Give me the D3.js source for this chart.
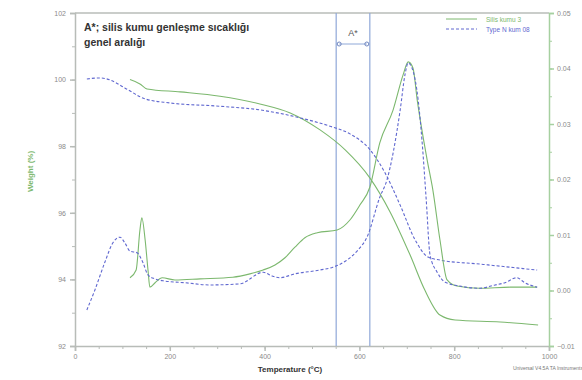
<!DOCTYPE html>
<html>
<head>
<meta charset="utf-8">
<script src="https://cdn.jsdelivr.net/npm/d3@7"></script>
<style>
  body { margin: 0; background: #fff; }
  svg { font-family: "Liberation Sans", Arial, sans-serif; }
</style>
</head>
<body>
<div id="chart"></div>
<script>
// temperatures (°C) and values
var tGreenW = [116, 137, 152, 222, 306, 390, 454, 517, 570, 622, 665, 707, 738, 770, 802, 897, 977];
var wGreen  = [100.0, 99.87, 99.72, 99.63, 99.5, 99.27, 99.0, 98.49, 97.89, 97.05, 96.02, 94.73, 93.68, 92.93, 92.78, 92.72, 92.63];

var tBlueW = [25, 53, 74, 105, 148, 200, 306, 390, 475, 538, 580, 622, 654, 686, 717, 745, 770, 854, 975];
var wBlue  = [100.02, 100.05, 99.99, 99.75, 99.42, 99.3, 99.2, 99.09, 98.85, 98.6, 98.37, 97.9, 97.2, 96.23, 95.2, 94.67, 94.58, 94.46, 94.28];

var tGreenD = [116, 129, 137, 141, 148, 154, 158, 169, 184, 211, 264, 333, 369, 397, 422, 443, 464, 485, 511, 553, 580, 601, 622, 643, 671, 692, 703, 713, 722, 743, 755, 770, 785, 806, 854, 918, 975];
var dGreen  = [0.0023, 0.0037, 0.0109, 0.0131, 0.0091, 0.0037, 0.0006, 0.0014, 0.0023, 0.0019, 0.0021, 0.0024, 0.0030, 0.0037, 0.0046, 0.0059, 0.0078, 0.0095, 0.0104, 0.0109, 0.0127, 0.0154, 0.0186, 0.0266, 0.0325, 0.0388, 0.0412, 0.0401, 0.0343, 0.0235, 0.0181, 0.0091, 0.0019, 0.0008, 0.0004, 0.0006, 0.0006];

var tBlueD = [25, 42, 63, 80, 95, 105, 116, 131, 143, 154, 169, 190, 232, 285, 348, 397, 416, 432, 464, 517, 544, 574, 597, 616, 643, 658, 686, 696, 703, 711, 724, 732, 741, 749, 764, 781, 812, 854, 886, 907, 932, 949, 975];
var dBlue  = [-0.0035, 0.0001, 0.0051, 0.0086, 0.0096, 0.0086, 0.0071, 0.0068, 0.0051, 0.0028, 0.0021, 0.0017, 0.0014, 0.0010, 0.0012, 0.0033, 0.0026, 0.0023, 0.0030, 0.0037, 0.0042, 0.0055, 0.0073, 0.0096, 0.0168, 0.0199, 0.0325, 0.0388, 0.0410, 0.0401, 0.0343, 0.0271, 0.0163, 0.0064, 0.0033, 0.0015, 0.0008, 0.0004, 0.0010, 0.0014, 0.0023, 0.0014, 0.0006];

var xTicks = [0, 200, 400, 600, 800, 1000];
var yLeftTicks = [92, 94, 96, 98, 100, 102];
var yRightTicks = [-0.01, 0.00, 0.01, 0.02, 0.03, 0.04, 0.05];
var rangeA = [551, 622];
var legendNames = ["Silis kumu 3", "Type N kum 08"];

var margin = {top: 13, right: 33, bottom: 34, left: 75},
    width = 582 - margin.left - margin.right,
    height = 380 - margin.top - margin.bottom;

var green = "#7cb86e", blue = "#6068d0", axisGrey = "#b8bcb8", lineBlue = "#8fa8d8";

var svg = d3.select("#chart")
  .append("svg")
    .attr("width", 582)
    .attr("height", 380)
  .append("g")
    .attr("transform", "translate(" + margin.left + "," + margin.top + ")");

var x = d3.scaleLinear().domain([0, 1000]).range([0, width]);
var yL = d3.scaleLinear().domain([92, 102]).range([height, 0]);
var yR = d3.scaleLinear().domain([-0.01, 0.05]).range([height, 0]);

// frame: top grey line
svg.append("line").attr("x1", 0).attr("x2", width).attr("y1", 0).attr("y2", 0)
  .attr("stroke", axisGrey).attr("stroke-width", 1.5);

// minor ticks
var xMinor = d3.range(0, 1001, 50);
svg.append("g").attr("transform", "translate(0," + height + ")")
  .call(d3.axisBottom(x).tickValues(xMinor).tickSize(3).tickFormat(""))
  .call(function(g) { g.selectAll("line,path").attr("stroke", axisGrey); });
svg.append("g")
  .call(d3.axisLeft(yL).tickValues(d3.range(92, 102.1, 1)).tickSize(3).tickFormat(""))
  .call(function(g) { g.selectAll("line,path").attr("stroke", axisGrey); });
svg.append("g").attr("transform", "translate(" + width + ",0)")
  .call(d3.axisRight(yR).tickValues(d3.range(-0.01, 0.0501, 0.005)).tickSize(3).tickFormat(""))
  .call(function(g) { g.selectAll("line,path").attr("stroke", "#a6d0a0"); });

// main axes
svg.append("g").attr("transform", "translate(0," + height + ")")
  .call(d3.axisBottom(x).tickValues(xTicks).tickSize(5).tickPadding(3).tickFormat(d3.format("d")))
  .call(function(g) {
    g.selectAll("line,path").attr("stroke", axisGrey).attr("stroke-width", 1.5);
    g.selectAll("text").attr("fill", "#8a8a8a").style("font-size", "7px");
  });
svg.append("g")
  .call(d3.axisLeft(yL).tickValues(yLeftTicks).tickSize(5).tickPadding(4).tickFormat(d3.format("d")))
  .call(function(g) {
    g.selectAll("line,path").attr("stroke", axisGrey).attr("stroke-width", 1.5);
    g.selectAll("text").attr("fill", "#8a8a8a").style("font-size", "7px");
  });
svg.append("g").attr("transform", "translate(" + width + ",0)")
  .call(d3.axisRight(yR).tickValues(yRightTicks).tickSize(5).tickPadding(3).tickFormat(d3.format(".2f")))
  .call(function(g) {
    g.selectAll("line,path").attr("stroke", "#a6d0a0").attr("stroke-width", 1.5);
    g.selectAll("text").attr("fill", "#8a8a8a").style("font-size", "7px");
  });

// A* range lines
svg.selectAll(".rangeA").data(rangeA).enter().append("line")
  .attr("x1", function(d) { return x(d); }).attr("x2", function(d) { return x(d); })
  .attr("y1", 0).attr("y2", height)
  .attr("stroke", lineBlue).attr("stroke-width", 1.2);

var ay = 31;
svg.append("line")
  .attr("x1", x(rangeA[0]) + 3).attr("x2", x(rangeA[1]) - 3).attr("y1", ay).attr("y2", ay)
  .attr("stroke", lineBlue).attr("stroke-width", 1);
svg.selectAll(".arrowEnd").data(rangeA).enter().append("circle")
  .attr("cx", function(d, i) { return x(d) + (i === 0 ? 3 : -3); })
  .attr("cy", ay).attr("r", 2)
  .attr("fill", "none").attr("stroke", "#6f86c0").attr("stroke-width", 1);
svg.append("text")
  .attr("x", (x(rangeA[0]) + x(rangeA[1])) / 2).attr("y", ay - 8)
  .attr("text-anchor", "middle").style("font-size", "9px").attr("fill", "#555")
  .text("A*");

// curves
function drawLine(ts, vs, yScale, color, dash) {
  var pts = ts.map(function(t, i) { return [t, vs[i]]; });
  svg.append("path")
    .datum(pts)
    .attr("fill", "none")
    .attr("stroke", color)
    .attr("stroke-width", 1.1)
    .attr("stroke-dasharray", dash)
    .attr("d", d3.line()
      .x(function(d) { return x(d[0]); })
      .y(function(d) { return yScale(d[1]); })
      .curve(d3.curveMonotoneX));
}
drawLine(tGreenW, wGreen, yL, green, null);
drawLine(tBlueW, wBlue, yL, blue, "3,2");
drawLine(tGreenD, dGreen, yR, green, null);
drawLine(tBlueD, dBlue, yR, blue, "3,2");

// annotation
var note = svg.append("text").attr("x", 9).attr("y", 18)
  .style("font-size", "10.5px").style("font-weight", "bold").attr("fill", "#333");
note.append("tspan").attr("x", 9).attr("dy", 0).text("A*; silis kumu genleşme sıcaklığı");
note.append("tspan").attr("x", 9).attr("dy", 15).text("genel aralığı");

// legend
var legend = svg.append("g").attr("transform", "translate(" + (width - 103) + ",6)");
[[green, null], [blue, "3,2"]].forEach(function(s, i) {
  legend.append("line").attr("x1", 0).attr("x2", 31).attr("y1", i * 10).attr("y2", i * 10)
    .attr("stroke", s[0]).attr("stroke-width", 1).attr("stroke-dasharray", s[1]);
  legend.append("text").attr("x", 40).attr("y", i * 10 + 2.5)
    .style("font-size", "6.5px").attr("fill", s[0]).text(legendNames[i]);
});

// axis titles
svg.append("text")
  .attr("transform", "translate(-42," + (height / 2 - 8) + ") rotate(-90)")
  .attr("text-anchor", "middle").style("font-size", "8px").style("font-weight", "bold")
  .attr("fill", green).text("Weight (%)");
svg.append("text")
  .attr("x", width / 2 - 22).attr("y", height + 26)
  .attr("text-anchor", "middle").style("font-size", "8px").style("font-weight", "bold")
  .attr("fill", "#333").text("Temperature (°C)");
svg.append("text")
  .attr("x", width + 34).attr("y", height + 24)
  .attr("text-anchor", "end").style("font-size", "5px")
  .attr("fill", "#777").text("Universal V4.5A TA Instruments");
</script>
</body>
</html>
